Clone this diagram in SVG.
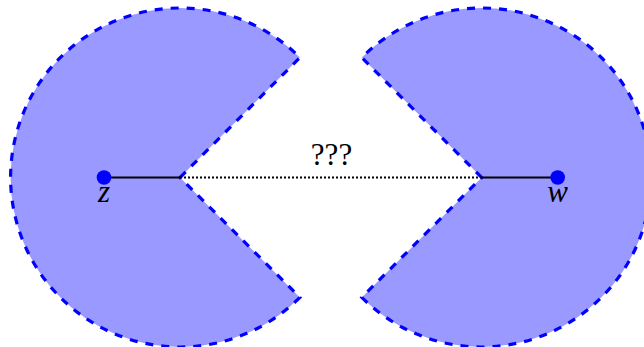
<svg xmlns="http://www.w3.org/2000/svg" width="644" height="347" viewBox="0 0 644 347">
<style>
.pac{fill:#9999ff;stroke:#0000ff;stroke-width:3.2;stroke-dasharray:8 8}
.seg{stroke:#000;stroke-width:2;fill:none}
.dot{fill:#0000ff}
.lbl{font-family:"Liberation Serif","DejaVu Serif",serif;font-size:31px;fill:#000}
.var{font-style:italic}
</style>
<rect width="644" height="347" fill="#fff"/>
<g id="left-region">
<path class="pac" d="M180,177.5 L299.9,57.6 A169.5,169.5 0 1 0 299.9,297.4 Z"/>
</g>
<g id="right-region">
<path class="pac" d="M481.7,177.5 L361.8,57.6 A169.5,169.5 0 1 1 361.8,297.4 Z"/>
</g>
<g id="connectors">
<line class="seg" x1="104" y1="177.5" x2="180" y2="177.5"/>
<line class="seg" x1="481.7" y1="177.5" x2="557.7" y2="177.5"/>
<line x1="180" y1="177.5" x2="481.7" y2="177.5" stroke="#000" stroke-width="2" stroke-dasharray="2 2"/>
</g>
<g id="z">
<circle class="dot" cx="104" cy="177.5" r="7.3"/>
<text class="lbl var" x="104" y="202" text-anchor="middle">z</text>
</g>
<g id="w">
<circle class="dot" cx="557.7" cy="177.5" r="7.3"/>
<text class="lbl var" x="557.7" y="202" text-anchor="middle">w</text>
</g>
<g id="label">
<text class="lbl" x="331.5" y="165" text-anchor="middle">???</text>
</g>
</svg>
